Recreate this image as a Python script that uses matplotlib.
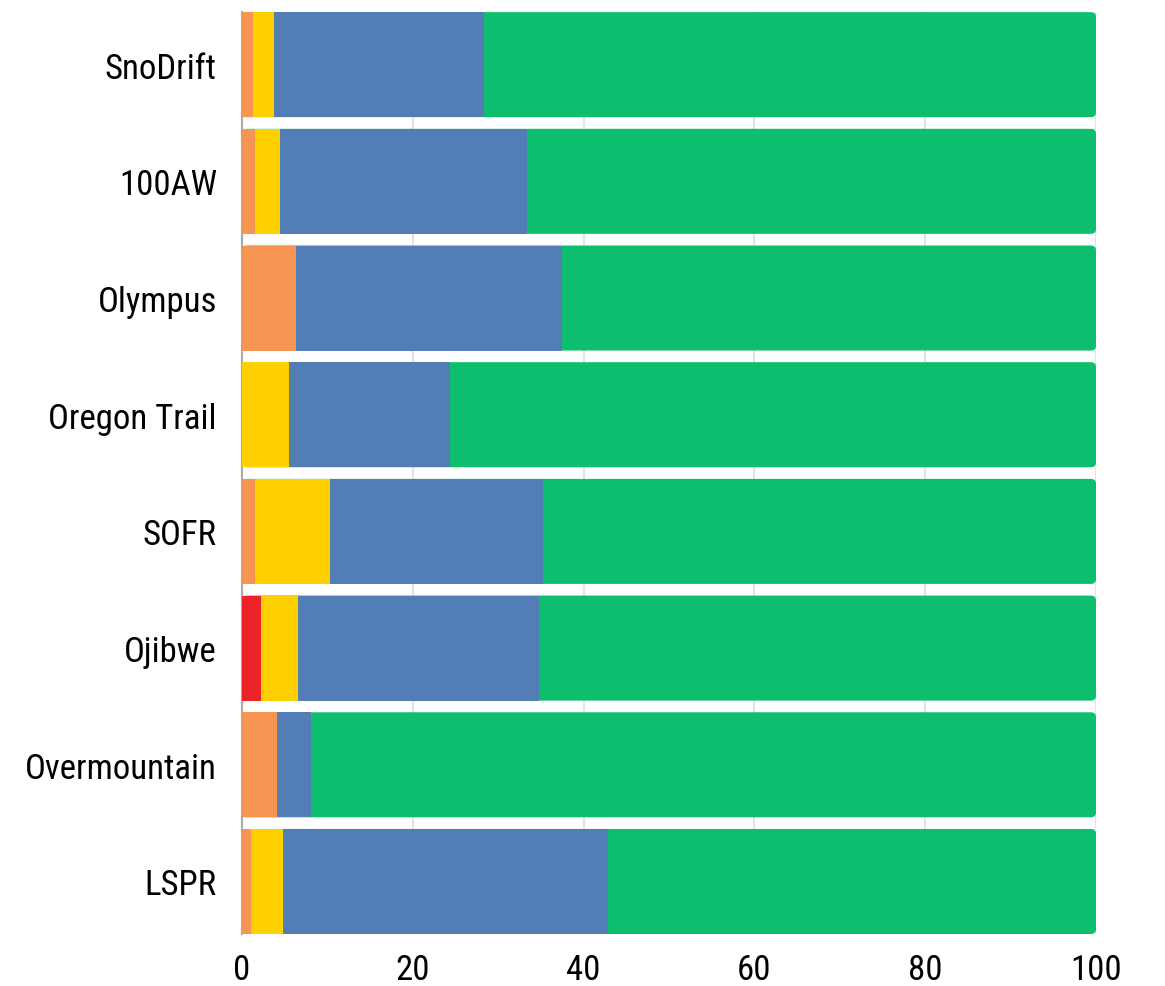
import numpy as np
import matplotlib
matplotlib.use("Agg")
import matplotlib.pyplot as plt
from matplotlib.patches import FancyBboxPatch
from matplotlib import font_manager

names = {f.name for f in font_manager.fontManager.ttflist}
fams = [f for f in ["Roboto Condensed", "Liberation Sans Narrow", "Open Sans Condensed", "DejaVu Sans Condensed"] if f in names]
plt.rcParams['font.family'] = fams + ['DejaVu Sans']

# Daten
kategorien = ["SnoDrift", "100AW", "Olympus", "Oregon Trail", "SOFR", "Ojibwe", "Overmountain", "LSPR"]
rot = [0, 0, 0, 0, 0, 2.2, 0, 0]
orange = [1.3, 1.5, 6.3, 0, 1.5, 0, 4.1, 1.05]
gelb = [2.4, 3.0, 0, 5.5, 8.8, 4.35, 0, 3.75]
blau = [24.6, 28.9, 31.2, 18.9, 25.0, 28.2, 4.0, 38.1]
gruen = [71.7, 66.6, 62.5, 75.6, 64.7, 65.25, 91.9, 57.1]
x_ticks = [0, 20, 40, 60, 80, 100]

farben = {"rot": "#ED2327", "orange": "#F79452", "gelb": "#FED000", "blau": "#537EB5", "gruen": "#0CBE6E"}

fig = plt.figure(figsize=(11.65, 9.87), dpi=100)
ax = fig.add_axes([0.2077, 0.0527, 0.7331, 0.934])

y = np.arange(len(kategorien))
h = 0.9

# gruene Balken mit runden Ecken (links werden sie ueberdeckt)
links_gruen = np.array(rot) + np.array(orange) + np.array(gelb) + np.array(blau)
for yi, l, w in zip(y, links_gruen, gruen):
    p = FancyBboxPatch((0, yi - h / 2), l + w, h,
                       boxstyle="round,pad=0,rounding_size=0.6",
                       mutation_aspect=0.073, fc=farben["gruen"], ec="none", zorder=2)
    ax.add_patch(p)

links = np.zeros(len(kategorien))
for name, werte in [("rot", rot), ("orange", orange), ("gelb", gelb), ("blau", blau)]:
    ax.barh(y, werte, left=links, height=h, color=farben[name], zorder=3, linewidth=0)
    links += np.array(werte)

ax.set_xlim(0, 100)
ax.set_ylim(len(kategorien) - 1 + h / 2, -h / 2)
ax.set_yticks(y)
ax.set_yticklabels(kategorien)
ax.set_xticks(x_ticks)
ax.tick_params(axis="both", length=0, labelsize=25)
ax.tick_params(axis="y", pad=18)
ax.tick_params(axis="x", pad=14)
ax.grid(axis="x", color="#e3e3e3", linewidth=1.5, zorder=0)
ax.set_axisbelow(True)
for s in ["top", "right", "bottom"]:
    ax.spines[s].set_visible(False)
ax.spines["left"].set_color("#aaaaaa")
ax.spines["left"].set_linewidth(1.5)

fig.savefig("out.png", dpi=100, facecolor="white")
